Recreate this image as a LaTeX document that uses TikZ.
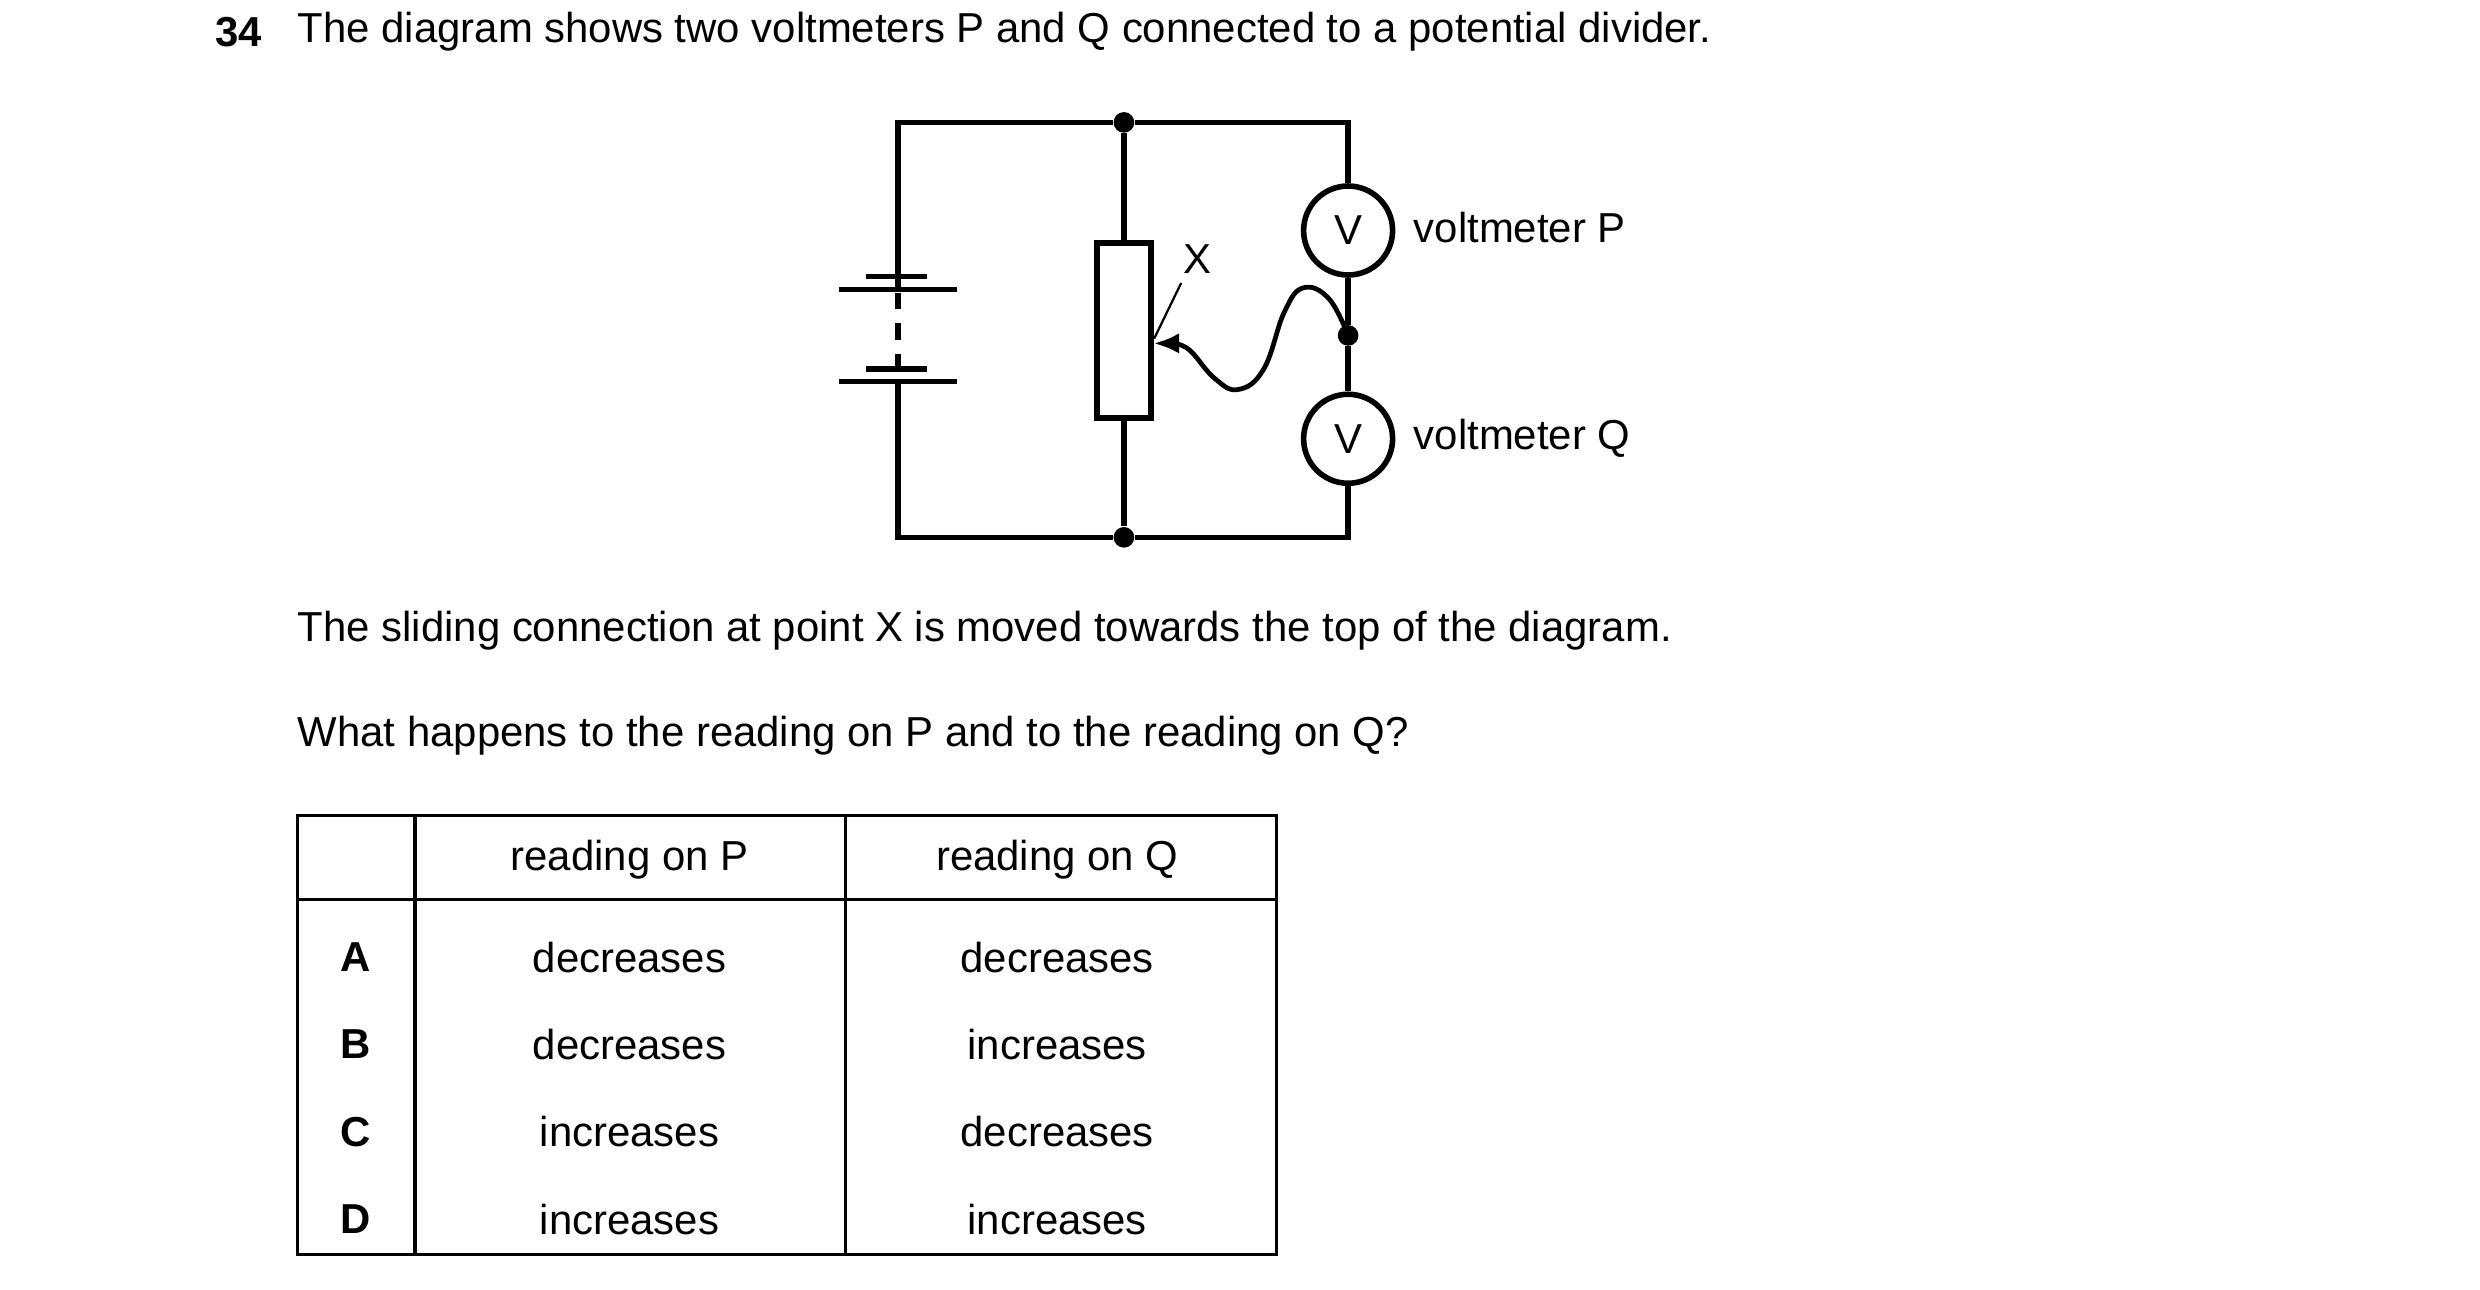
\documentclass[tikz,border=0pt]{standalone}
\usepackage{fontspec}
\setmainfont{Liberation Sans}
\usetikzlibrary{arrows.meta}
\begin{document}
\begin{tikzpicture}[x=0.02cm,y=-0.02cm,
        font=\fontsize{15}{18}\selectfont,
        wire/.style = {line width=2pt},
        gridLine/.style = {line width=1.2pt},
        meterNode/.style = {shape=circle,draw=black,line width=2pt,minimum size=1.12cm,inner sep=0pt},
        dotNode/.style = {shape=circle,fill=black,minimum size=0.26cm,inner sep=0pt},
        textNode/.style = {anchor=west,inner sep=0pt},
        cellNode/.style = {inner sep=0pt}
        ]
        \useasboundingbox (0,0) rectangle (1560,811);
        % question text
        \node[textNode,anchor=east] (num) at (165,20) {\textbf{34}};
        \node[textNode] (intro) at (187,20) {The diagram shows two voltmeters P and Q connected to a potential divider.};
        \node[textNode] (slide) at (187,397) {The sliding connection at point X is moved towards the top of the diagram.};
        \node[textNode] (ask) at (187,463) {What happens to the reading on P and to the reading on Q?};
        % circuit
        \node[dotNode] (topJ) at (707,77) {};
        \node[dotNode] (botJ) at (707,338) {};
        \node[dotNode] (midJ) at (848,211) {};
        \node[meterNode] (vP) at (848,145) {V};
        \node[meterNode] (vQ) at (848,276) {V};
        \node[textNode] (labP) at (889,143) {voltmeter P};
        \node[textNode] (labQ) at (889,276) {voltmeter Q};
        \node[draw,wire,minimum width=0.68cm,minimum height=2.2cm,inner sep=0pt] (res) at (707,208) {};
        \coordinate (tl) at (565,77);
        \coordinate (tr) at (848,77);
        \coordinate (bl) at (565,338);
        \coordinate (br) at (848,338);
        \coordinate (cellA) at (565,182);
        \coordinate (cellB) at (565,240);
        \draw[wire] (cellA) -- (tl) -- (topJ) -- (tr) -- (vP);
        \draw[wire] (topJ) -- (res.north);
        \draw[wire] (res.south) -- (botJ);
        \draw[wire] (cellB) -- (bl) -- (botJ) -- (br) -- (vQ);
        \draw[wire] (vP) -- (midJ) -- (vQ);
        % battery
        \draw[wire] (528,182) -- (602,182);
        \draw[wire] (545,174) -- (583,174);
        \draw[wire] (545,232) -- (583,232);
        \draw[wire] (528,240) -- (602,240);
        \draw[wire,dashed,dash pattern=on 6pt off 5pt] (565,184) -- (565,230);
        % slider
        \draw[line width=1.7pt,-{Latex[length=0.32cm,width=0.26cm]}] plot[smooth,tension=0.7] coordinates {(848,211) (836,188) (820,181) (808,196) (795,232) (779,245) (764,238) (748,220) (737,216)} -- (res.east |- 0,216);
        \node[cellNode] (xLab) at (753,163) {X};
        \draw[line width=0.8pt] (743,178) -- (726,213);
        % table
        \draw[gridLine] (187,513) rectangle (803,789);
        \draw[gridLine] (261,513) -- (261,789);
        \draw[gridLine] (532,513) -- (532,789);
        \draw[gridLine] (187,566) -- (803,566);
        \node[cellNode] (hP) at (396,541) {reading on P};
        \node[cellNode] (hQ) at (665,541) {reading on Q};
        \foreach \key/\pv/\qv/\yy in {A/decreases/decreases/602, B/decreases/increases/657, C/increases/decreases/712, D/increases/increases/767} {
            \node[cellNode] (key\key) at (224,\yy) {\textbf{\key}};
            \node[cellNode] (p\key) at (396,\yy) {\pv};
            \node[cellNode] (q\key) at (665,\yy) {\qv};
        }
    \end{tikzpicture}
\end{document}
